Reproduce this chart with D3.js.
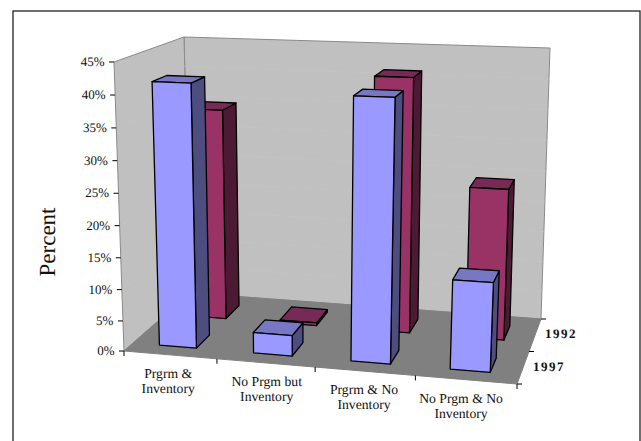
<!DOCTYPE html>
<html><head><meta charset="utf-8">
<script src="https://cdn.jsdelivr.net/npm/d3@7"></script>
<style>html,body{margin:0;padding:0;background:#fff}svg{display:block}text{font-family:"Liberation Serif",serif;fill:#111;text-rendering:geometricPrecision}</style>
</head><body><svg id="c" width="641" height="441"></svg>
<script>
const categories = [["Prgrm &","Inventory"],["No Prgm but","Inventory"],["Prgrm & No","Inventory"],["No Prgm & No","Inventory"]];
const series = ["1997","1992"];
const values1997 = [41.6,3.4,40.6,13.9];
const values1992 = [34.9,0.5,41.3,24.4];
const valueTicks = [0,5,10,15,20,25,30,35,40,45];
const labelShift = [-1,1,-1,-5];

const x = d3.scalePow().exponent(1.04).domain([0,categories.length]).range([0,1]);
const y = d3.scalePow().exponent(1.03).domain([0,45]).range([0,1]);
const z = d3.scaleBand().domain(series).range([0,1]).paddingInner(0.56).paddingOuter(0.28);
const xInner = d3.scaleBand().domain([0]).range([0,1]).paddingInner(0.6).paddingOuter(0.3);

// projection: corners of the plot box on screen, blended from the three scaled axes
const corners = {fbl:[124,351],fbr:[517,384],bbl:[190,293],bbr:[541,319],ftl:[114,62],ftr:[530,76],btl:[184,37],btr:[550,48]};
const mix=(a,b,t)=>[a[0]+(b[0]-a[0])*t,a[1]+(b[1]-a[1])*t];
function p(cat,val,depth){
  const u=x(cat),v=y(val),w=depth;
  const fb=mix(corners.fbl,corners.fbr,u),bb=mix(corners.bbl,corners.bbr,u),
        ft=mix(corners.ftl,corners.ftr,u),bt=mix(corners.btl,corners.btr,u);
  return mix(mix(fb,bb,w),mix(ft,bt,w),v);
}
const line=d3.line().curve(d3.curveLinearClosed);
const svg=d3.select("#c");
svg.append("rect").attr("x",13).attr("y",11).attr("width",627).attr("height",440).attr("fill","#fff").attr("stroke","#222").attr("stroke-width",1.3);

const wallColor="#c0c0c0", edge="#8a8a8a";
const n=categories.length;
svg.append("path").attr("d",line([p(0,0,1),p(n,0,1),p(n,45,1),p(0,45,1)])).attr("fill",wallColor).attr("stroke",edge);
svg.append("path").attr("d",line([p(0,0,0),p(0,0,1),p(0,45,1),p(0,45,0)])).attr("fill",wallColor).attr("stroke",edge);
svg.append("path").attr("d",line([p(0,0,0),p(n,0,0),p(n,0,1),p(0,0,1)])).attr("fill","#808080").attr("stroke","#808080");
// faint gridlines
valueTicks.slice(1,-1).forEach(t=>{
  svg.append("path").attr("d",d3.line()([p(0,t,0),p(0,t,1),p(n,t,1)])).attr("fill","none").attr("stroke","#c5c5c5").attr("stroke-width",0.6);
});
// bars
const palette={"1997":{front:"#9999ff",side:"#4d4d80",top:"#7777c4"},"1992":{front:"#993366",side:"#4d1a33",top:"#772a55"}};
const data={"1997":values1997,"1992":values1992};
const lo=xInner(0),hi=lo+xInner.bandwidth();
["1992","1997"].forEach(s=>{
  const z0=z(s),z1=z0+z.bandwidth(),c=palette[s];
  const g=svg.append("g").attr("stroke","#000").attr("stroke-width",1.3).attr("stroke-linejoin","round");
  data[s].forEach((val,i)=>{
    const a=i+lo,b=i+hi;
    g.append("path").attr("d",line([p(b,0,z0),p(b,0,z1),p(b,val,z1),p(b,val,z0)])).attr("fill",c.side);
    g.append("path").attr("d",line([p(a,val,z0),p(b,val,z0),p(b,val,z1),p(a,val,z1)])).attr("fill",c.top);
    g.append("path").attr("d",line([p(a,0,z0),p(b,0,z0),p(b,val,z0),p(a,val,z0)])).attr("fill",c.front);
  });
});
// value axis
valueTicks.forEach(t=>{
  const q=p(0,t,0);
  svg.append("line").attr("x1",q[0]-5).attr("x2",q[0]).attr("y1",q[1]).attr("y2",q[1]).attr("stroke","#000");
  svg.append("text").attr("x",q[0]-9.5).attr("y",q[1]+4).attr("text-anchor","end").attr("font-size",13).text(t+"%");
});
// category axis
d3.range(n+1).forEach(i=>{
  const q=p(i,0,0);
  svg.append("line").attr("x1",q[0]).attr("x2",q[0]).attr("y1",q[1]).attr("y2",q[1]+5).attr("stroke","#000");
});
categories.forEach((c,i)=>{
  const q=p(i+.5,0,0);
  const t=svg.append("text").attr("text-anchor","middle").attr("font-size",13.7);
  c.forEach((l,j)=>t.append("tspan").attr("x",q[0]+labelShift[i]).attr("y",q[1]+23+j*15).text(l));
});
// series axis
[0,.5,1].forEach(d=>{
  const q=p(n,0,d);
  svg.append("line").attr("x1",q[0]).attr("x2",q[0]+5).attr("y1",q[1]).attr("y2",q[1]).attr("stroke","#000");
});
series.forEach(s=>{
  const q=p(n,0,z(s)+z.bandwidth()/2);
  svg.append("text").attr("x",q[0]+10).attr("y",q[1]+3).attr("font-size",13).attr("font-weight","bold").attr("letter-spacing",1.5).text(s);
});
svg.append("text").attr("transform","translate(55,242) rotate(-90)").attr("text-anchor","middle").attr("font-size",23).text("Percent");
</script></body></html>
